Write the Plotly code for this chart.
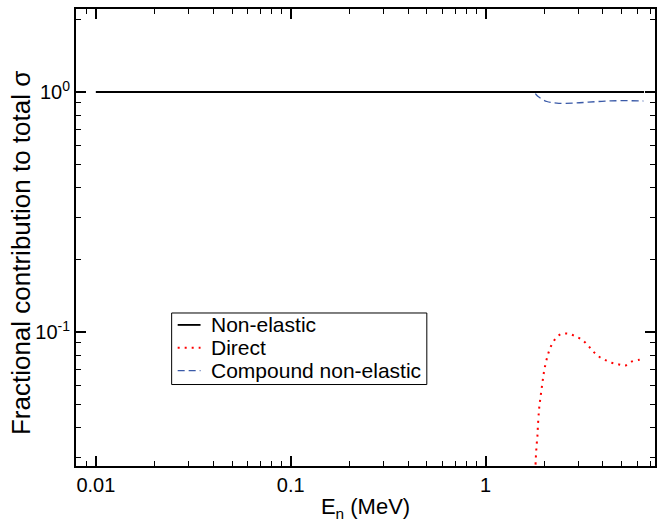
import plotly.graph_objects as go

# Neutron energy grids (MeV) and fractional contributions to the total cross section
e_nonel = [0.01, 0.1, 1.0, 2.0, 4.0, 6.5]
f_nonel = [1.0, 1.0, 1.0, 1.0, 1.0, 1.0]

e_direct = [1.78, 1.809, 1.830, 1.845, 1.852, 1.874, 1.889, 1.911, 1.934, 1.957,
            1.981, 2.011, 2.052, 2.101, 2.169, 2.274, 2.429, 2.650, 2.878, 3.126,
            3.339, 3.541, 3.775, 4.078, 4.431, 4.833, 5.224, 5.633, 6.162, 6.45]
f_direct = [0.020, 0.0298, 0.0344, 0.0371, 0.0398, 0.0461, 0.0495, 0.0533, 0.0574, 0.0615,
            0.0662, 0.0710, 0.0763, 0.0818, 0.0875, 0.0933, 0.0978, 0.0984, 0.0960, 0.0927,
            0.0881, 0.0834, 0.0793, 0.0766, 0.0744, 0.0732, 0.0725, 0.0753, 0.0766, 0.0770]

e_compound = [0.01, 0.1, 1.0, 1.70, 1.761, 1.867, 2.060, 2.317, 2.821, 3.366,
              4.099, 4.985, 6.309, 6.45]
f_compound = [1.0, 1.0, 1.0, 1.0, 0.998, 0.955, 0.913, 0.899, 0.899, 0.907,
              0.916, 0.920, 0.918, 0.917]

x_ticks = [0.01, 0.1, 1]
x_ticktext = ["0.01", "0.1", "1"]
x_minor = [0.008, 0.009] + [k * 0.01 for k in range(2, 10)] + \
          [k * 0.1 for k in range(2, 10)] + [2, 3, 4, 5, 6, 7]

y_ticks = [0.1, 1]
y_ticktext = ["10<sup>-1</sup>", "10<sup>0</sup>"]
y_minor = [k * 0.01 for k in range(3, 10)] + [k * 0.1 for k in range(2, 10)] + [2]

FONT = "Liberation Sans, Arial, Helvetica, sans-serif"

# Series styles, shared by the curves and the legend keys
series = [
    dict(name="Non-elastic", x=e_nonel, y=f_nonel,
         line=dict(color="black", width=1.8), shape="linear"),
    dict(name="Direct", x=e_direct, y=f_direct,
         line=dict(color="#ff0000", width=2, dash="2px,5px"), shape="spline"),
    dict(name="Compound non-elastic", x=e_compound, y=f_compound,
         line=dict(color="#3a5aa8", width=1.3, dash="7px,4px"), shape="spline"),
]

fig = go.Figure()
# Draw in reverse so the solid non-elastic line sits on top
for s in reversed(series):
    fig.add_trace(go.Scatter(x=s["x"], y=s["y"], mode="lines", name=s["name"],
                             line=s["line"], line_shape=s["shape"], showlegend=False))

axis_common = dict(
    type="log",
    showline=True, linecolor="black", linewidth=2,
    mirror="allticks",
    ticks="inside", ticklen=10, tickwidth=1.5, tickcolor="black",
    showgrid=False, zeroline=False,
    tickfont=dict(family=FONT, size=20, color="black"),
)

fig.update_xaxes(
    **axis_common,
    range=[-2.102, 0.869],
    tickmode="array", tickvals=x_ticks, ticktext=x_ticktext,
    minor=dict(ticks="inside", ticklen=5, tickwidth=1.2, tickcolor="black",
               tickvals=x_minor, showgrid=False),
    title_text="E<sub>n</sub> (MeV)", title_standoff=4,
    title_font=dict(family=FONT, size=22, color="black"),
)
fig.update_yaxes(
    **axis_common,
    range=[-1.559, 0.346],
    tickmode="array", tickvals=y_ticks, ticktext=y_ticktext,
    minor=dict(ticks="inside", ticklen=5, tickwidth=1.2, tickcolor="black",
               tickvals=y_minor, showgrid=False),
)

# Vertical y-axis title
fig.add_annotation(
    text="Fractional contribution to total σ",
    xref="paper", yref="paper", x=-0.094, y=0.465,
    xanchor="center", yanchor="middle", textangle=-90, showarrow=False,
    font=dict(family=FONT, size=26, color="black"),
)

# Compact boxed legend inside the plot area (paper coordinates)
leg_x0, leg_x1, leg_y0, leg_y1 = 0.1652, 0.6059, 0.1783, 0.3348
key_x0, key_x1, text_x = 0.1756, 0.2151, 0.2289
row_y = [0.3087, 0.2587, 0.2087]
fig.add_shape(type="rect", xref="paper", yref="paper",
              x0=leg_x0, x1=leg_x1, y0=leg_y0, y1=leg_y1,
              line=dict(color="black", width=1), fillcolor="white", layer="above")
for s, ry in zip(series, row_y):
    fig.add_shape(type="line", xref="paper", yref="paper",
                  x0=key_x0, x1=key_x1, y0=ry, y1=ry,
                  line=s["line"], layer="above")
    fig.add_annotation(text=s["name"], xref="paper", yref="paper",
                       x=text_x, y=ry, xanchor="left", yanchor="middle",
                       showarrow=False,
                       font=dict(family=FONT, size=21, color="black"))

fig.update_layout(
    width=664, height=522,
    margin=dict(l=76, r=7, t=9, b=53),
    paper_bgcolor="white", plot_bgcolor="white",
    font=dict(family=FONT, color="black"),
    showlegend=False,
)

fig.write_html("out.html")
